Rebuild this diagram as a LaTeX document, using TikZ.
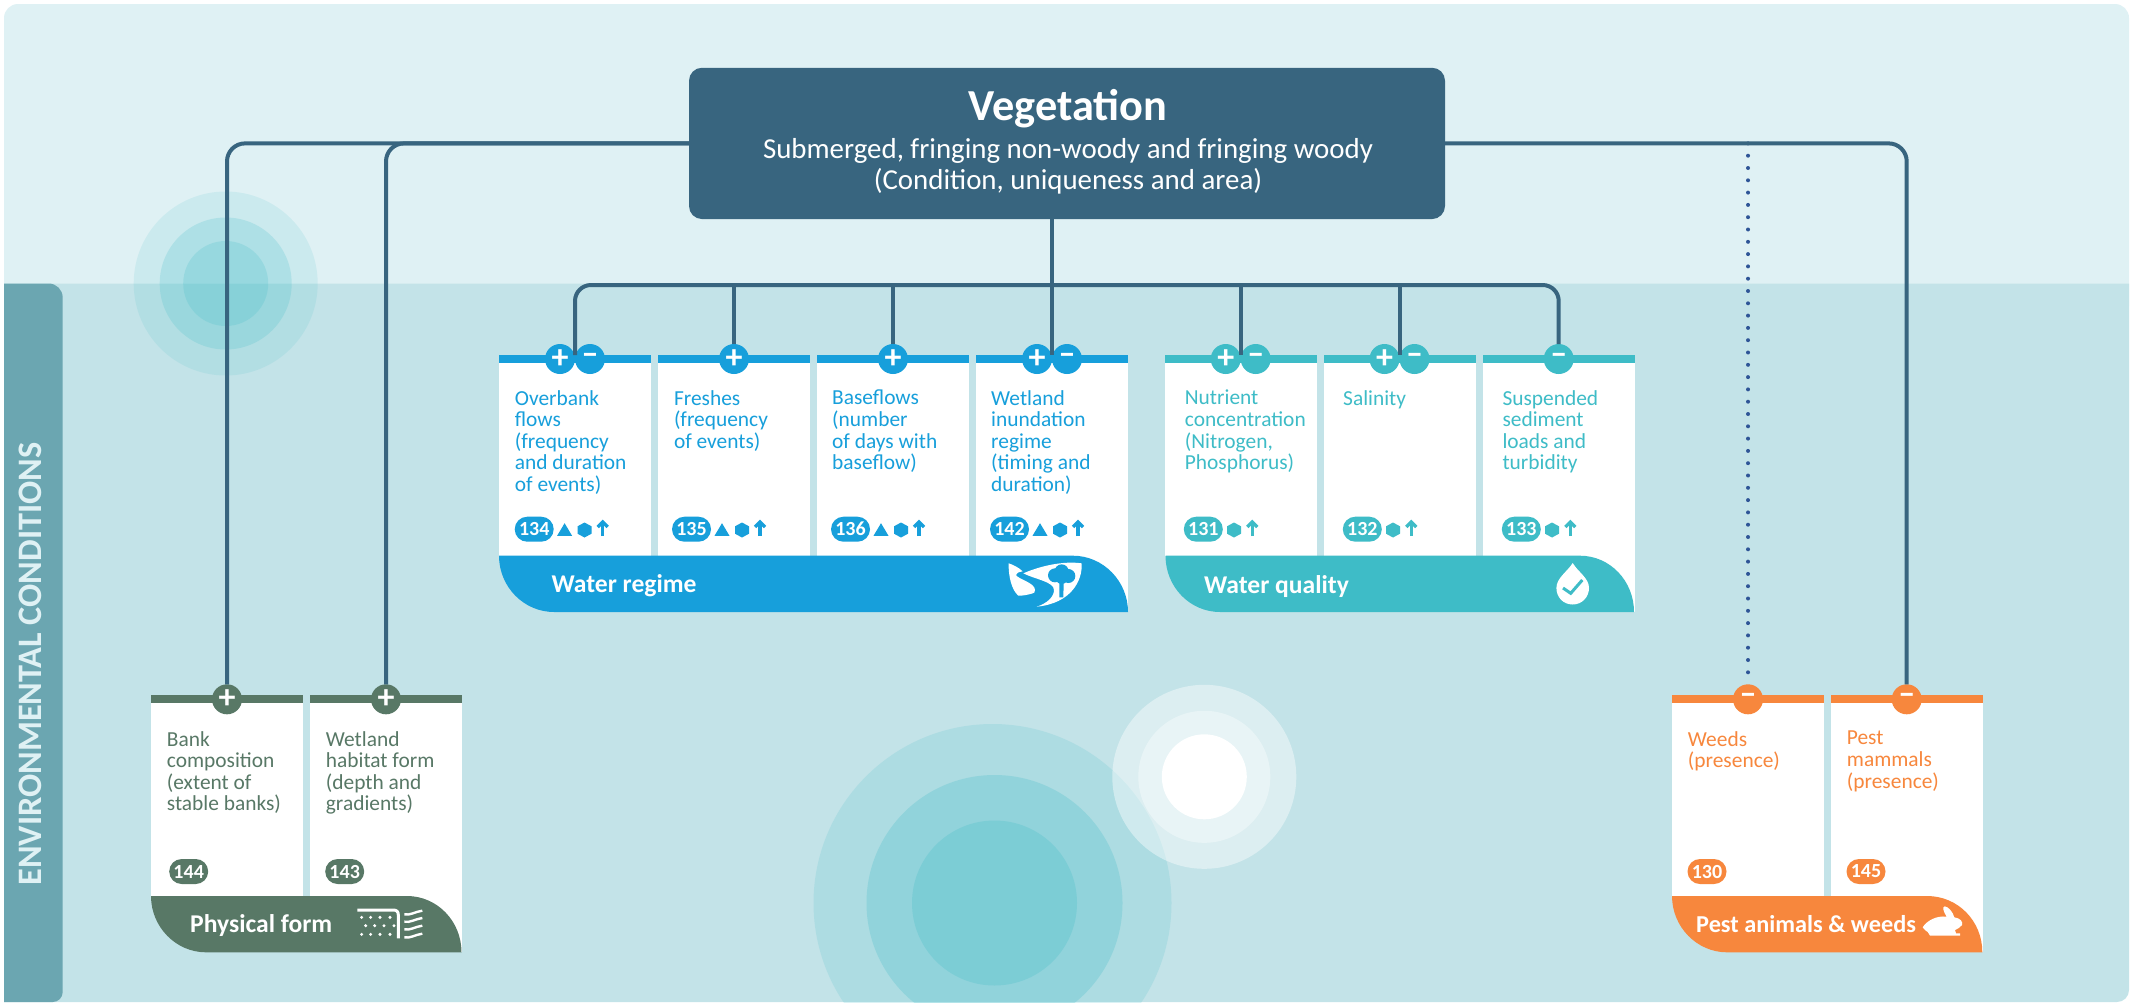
\documentclass[tikz,border=0pt]{standalone}
\usepackage{fontspec}
\setmainfont{Carlito}
\definecolor{toppanel}{HTML}{DFF1F4}
\definecolor{lowpanel}{HTML}{C3E3E8}
\definecolor{strip}{HTML}{6BA6B1}
\definecolor{slate}{HTML}{38657F}
\definecolor{wblue}{HTML}{179FDB}
\definecolor{wteal}{HTML}{3EBCC7}
\definecolor{pgreen}{HTML}{587866}
\definecolor{porange}{HTML}{F7873D}
\definecolor{dots}{HTML}{2E5597}
\tikzset{
  card/.style={fill=white,minimum width=152,inner sep=0,outer sep=0,anchor=north west},
  cardtext/.style={inner sep=0,anchor=north west,align=left,
    font=\fontsize{21.4}{21.6}\selectfont,execute at begin node={\rule{0pt}{15pt}}},
  sign/.style={circle,minimum size=30,inner sep=0,outer sep=0,text=white,
    font=\fontsize{34}{34}\selectfont\bfseries},
  pill/.style={rounded corners=12.5,minimum width=39,minimum height=25,inner sep=0,text=white,
    font=\fontsize{20}{20}\selectfont\bfseries},
  banner/.style={inner sep=0,anchor=base west,text=white,font=\fontsize{25.6}{26}\selectfont\bfseries},
  mainlink/.style={slate,line width=4},
  dotlink/.style={dots,line width=4,line cap=round,dash pattern=on 0pt off 12.3pt},
  pics/evtri/.style={code={\fill (-7.5,6.3) -- (7.5,6.3) -- (0,-6.3) -- cycle;}},
  pics/evhex/.style={code={\fill (0,-7.5) -- (7,-3.7) -- (7,3.7) -- (0,7.5) -- (-7,3.7) -- (-7,-3.7) -- cycle;}},
  pics/evarr/.style={code={\draw[line width=3.3] (0,7.5) -- (0,-6);
    \draw[line width=3.3] (-5,-1.5) -- (0,-6.5) -- (5,-1.5);}}
}
\begin{document}
\begin{tikzpicture}[x=1pt,y=-1pt]
    \useasboundingbox (0,0) rectangle (2140,1002);

    %%%% Panels %%%%%%%%%%%%%%%%%%%%%%%%%%%%%%%%%%%%%%%%%%%%%%%%%%%%%%%%%%
    \fill[toppanel,rounded corners=14] (4,4) rectangle (2129,320);
    \fill[lowpanel] (4,283.5) -- (2129,283.5)
      [rounded corners=12] -- (2129,1002) [sharp corners] -- (4,1002) -- cycle;
    \fill[strip] (4,283.5) [rounded corners=14] -- (62.7,283.5)
      [rounded corners=10] -- (62.7,1002) [sharp corners] -- (4,1002) -- cycle;
    \node[rotate=90,inner sep=0,text=toppanel,font=\fontsize{34.3}{35}\selectfont\bfseries] (envtxt)
      at (30,664) {ENVIRONMENTAL CONDITIONS};

    %%%% Rings %%%%%%%%%%%%%%%%%%%%%%%%%%%%%%%%%%%%%%%%%%%%%%%%%%%%%%%%%%%
    \fill[wteal,opacity=.12] (225.7,283.5) circle (92);
    \fill[wteal,opacity=.2] (225.7,283.5) circle (66);
    \fill[wteal,opacity=.2] (225.7,283.5) circle (42.5);
    \begin{scope}
      \clip (4,283.5) rectangle (2129,1002);
      \fill[wteal,opacity=.16] (992.5,903) circle (179);
      \fill[wteal,opacity=.25] (994.5,903) circle (128);
      \fill[wteal,opacity=.25] (994.5,903) circle (82.5);
    \end{scope}
    \fill[white,opacity=.42] (1204.3,776.8) circle (92);
    \fill[white,opacity=.37] (1204.3,776.8) circle (66);
    \fill[white] (1204.3,776.8) circle (42.5);

    %%%% Vegetation %%%%%%%%%%%%%%%%%%%%%%%%%%%%%%%%%%%%%%%%%%%%%%%%%%%%%%
    \node[fill=slate,rounded corners=13,minimum width=756,minimum height=151.3,inner sep=0,outer sep=0]
      (veg) at (1067,143.4) {};
    \node[inner sep=0,anchor=base,text=white,font=\fontsize{44.3}{45}\selectfont\bfseries] (vegtitle)
      at (1068,120) {Vegetation};
    \node[inner sep=0,anchor=base,text=white,font=\fontsize{28.9}{29}\selectfont] (vegsub)
      at (1068,158) {Submerged, fringing non-woody and fringing woody};
    \node[inner sep=0,anchor=base,text=white,font=\fontsize{28.9}{29}\selectfont] (vegarea)
      at (1068,189) {(Condition, uniqueness and area)};

    %%%% Water regime %%%%%%%%%%%%%%%%%%%%%%%%%%%%%%%%%%%%%%%%%%%%%%%%%%%%
    \node[card,minimum height=201] (ovbcard) at (499,355) {};
    \node[card,minimum height=201] (frecard) at (658,355) {};
    \node[card,minimum height=201] (bascard) at (817,355) {};
    \node[card,minimum height=257] (inucard) at (976,355) {};
    \fill[wblue] (ovbcard.north west) rectangle ++(152,8);
    \fill[wblue] (frecard.north west) rectangle ++(152,8);
    \fill[wblue] (bascard.north west) rectangle ++(152,8);
    \fill[wblue] (inucard.north west) rectangle ++(152,8);
    \fill[wblue]
         (499,555.7)
      -- (1073,555.7)
      .. controls (1103,555.7) and (1128,581) .. (1128,612)
      -- (554,612)
      .. controls (524,612) and (499,587) .. (499,555.7) -- cycle;
    \node[sign,fill=wblue] (ovbp) at (560,359) {+};
    \node[sign,fill=wblue] (ovbm) at (590,359) {–};
    \node[sign,fill=wblue] (frep) at (734,359) {+};
    \node[sign,fill=wblue] (basp) at (893,359) {+};
    \node[sign,fill=wblue] (inup) at (1037,359) {+};
    \node[sign,fill=wblue] (inum) at (1067,359) {–};
    \node[cardtext,text=wblue] (ovbtxt) at (514.7,390) {Overbank\\flows\\(frequency\\and duration\\of events)};
    \node[cardtext,text=wblue] (fretxt) at (673.8,390) {Freshes\\(frequency\\of events)};
    \node[cardtext,text=wblue] (bastxt) at (832,390) {Baseflows\\(number\\of days with\\baseflow)};
    \node[cardtext,text=wblue] (inutxt) at (991,390) {Wetland\\inundation\\regime\\(timing and\\duration)};
    \node[pill,fill=wblue] (ovbnum) at (534.2,529.2) {134};
    \node[pill,fill=wblue] (frenum) at (691.5,529.2) {135};
    \node[pill,fill=wblue] (basnum) at (850.5,529.2) {136};
    \node[pill,fill=wblue] (inunum) at (1009.5,529.2) {142};
    \pic[color=wblue] at (564.6,529.5) {evtri};
    \pic[color=wblue] at (584.5,530) {evhex};
    \pic[color=wblue] at (602.7,528.5) {evarr};
    \pic[color=wblue] at (722,529.5) {evtri};
    \pic[color=wblue] at (742,530) {evhex};
    \pic[color=wblue] at (760,528.5) {evarr};
    \pic[color=wblue] at (881,529.5) {evtri};
    \pic[color=wblue] at (901,530) {evhex};
    \pic[color=wblue] at (919,528.5) {evarr};
    \pic[color=wblue] at (1040,529.5) {evtri};
    \pic[color=wblue] at (1060,530) {evhex};
    \pic[color=wblue] at (1078,528.5) {evarr};
    \node[banner] (wrtxt) at (551.5,592) {Water regime};
    % river and tree
    \begin{scope}[shift={(960,540)},scale=1/3]
      \fill[white] (146,70) .. controls (160,74) and (178,84) .. (188,94)
        .. controls (175,96) and (168,100) .. (168,105)
        .. controls (175,118) and (225,128) .. (225,150)
        .. controls (225,158) and (222,160) .. (215,161)
        .. controls (200,165) and (190,167) .. (175,167)
        .. controls (155,150) and (145,110) .. (146,70) -- cycle;
      \fill[white] (190,100) .. controls (240,78) and (310,62) .. (365,70)
        .. controls (368,120) and (335,190) .. (230,200)
        .. controls (262,190) and (282,170) .. (282,150)
        .. controls (282,125) and (225,118) .. (190,100) -- cycle;
      \fill[wblue] (285,106) circle (21);
      \fill[wblue] (325,108) circle (21);
      \fill[wblue] (305,94) circle (21);
      \fill[wblue] (305,114) circle (18);
      \fill[wblue] (298,128) -- (311,128) -- (310,172) -- (298,172) -- cycle;
    \end{scope}

    %%%% Water quality %%%%%%%%%%%%%%%%%%%%%%%%%%%%%%%%%%%%%%%%%%%%%%%%%%%
    \node[card,minimum height=201] (nutcard) at (1165,355) {};
    \node[card,minimum height=201] (salcard) at (1324,355) {};
    \node[card,minimum height=257] (suscard) at (1483,355) {};
    \fill[wteal] (nutcard.north west) rectangle ++(152,8);
    \fill[wteal] (salcard.north west) rectangle ++(152,8);
    \fill[wteal] (suscard.north west) rectangle ++(152,8);
    \fill[wteal]
         (1165.5,555.7)
      -- (1580,555.7)
      .. controls (1610,555.7) and (1634,581) .. (1634,612)
      -- (1220,612)
      .. controls (1190,612) and (1165.5,587) .. (1165.5,555.7) -- cycle;
    \node[sign,fill=wteal] (nutp) at (1225.7,359) {+};
    \node[sign,fill=wteal] (nutm) at (1255.7,359) {–};
    \node[sign,fill=wteal] (salp) at (1384.5,359) {+};
    \node[sign,fill=wteal] (salm) at (1414.5,359) {–};
    \node[sign,fill=wteal] (susm) at (1558.7,359) {–};
    \node[cardtext,text=wteal] (nuttxt) at (1184.7,390) {Nutrient\\concentration\\(Nitrogen,\\Phosphorus)};
    \node[cardtext,text=wteal] (saltxt) at (1343,390) {Salinity};
    \node[cardtext,text=wteal] (sustxt) at (1502.3,390) {Suspended\\sediment\\loads and\\turbidity};
    \node[pill,fill=wteal] (nutnum) at (1203.3,529.2) {131};
    \node[pill,fill=wteal] (salnum) at (1362.3,529.2) {132};
    \node[pill,fill=wteal] (susnum) at (1521.3,529.2) {133};
    \pic[color=wteal] at (1234,530) {evhex};
    \pic[color=wteal] at (1252.3,528.5) {evarr};
    \pic[color=wteal] at (1393,530) {evhex};
    \pic[color=wteal] at (1411.3,528.5) {evarr};
    \pic[color=wteal] at (1552,530) {evhex};
    \pic[color=wteal] at (1570.3,528.5) {evarr};
    \node[banner] (wqtxt) at (1204,593) {Water quality};
    % drop
    \fill[white] (1572.7,563) .. controls (1578,572) and (1589,578) .. (1589,588)
      .. controls (1589,597) and (1582,604.5) .. (1572.7,604.5)
      .. controls (1563,604.5) and (1556.4,597) .. (1556.4,588)
      .. controls (1556.4,578) and (1567,572) .. (1572.7,563) -- cycle;
    \draw[wteal,line width=3] (1563,588) -- (1570.7,593.3) -- (1582.3,580);

    %%%% Physical form %%%%%%%%%%%%%%%%%%%%%%%%%%%%%%%%%%%%%%%%%%%%%%%%%%%
    \node[card,minimum height=201] (bancard) at (151,695) {};
    \node[card,minimum height=257] (habcard) at (310,695) {};
    \fill[pgreen] (bancard.north west) rectangle ++(152,8);
    \fill[pgreen] (habcard.north west) rectangle ++(152,8);
    \fill[pgreen]
         (151,896)
      -- (407,896)
      .. controls (437,896) and (461.5,921) .. (461.5,952.3)
      -- (206,952.3)
      .. controls (176,952.3) and (151,927) .. (151,896) -- cycle;
    \node[sign,fill=pgreen] (banp) at (227,699.3) {+};
    \node[sign,fill=pgreen] (habp) at (386,699.3) {+};
    \node[cardtext,text=pgreen] (bantxt) at (166.7,731) {Bank\\composition\\(extent of\\stable banks)};
    \node[cardtext,text=pgreen] (habtxt) at (325.7,731) {Wetland\\habitat form\\(depth and\\gradients)};
    \node[pill,fill=pgreen] (bannum) at (188.7,871.5) {144};
    \node[pill,fill=pgreen] (habnum) at (344.7,871.5) {143};
    \node[banner] (pftxt) at (190,932.7) {Physical form};
    % bed and bank
    \begin{scope}[shift={(345,895)},scale=1/3]
      \draw[white,line width=3] (37,45) -- (145,45) .. controls (155,45) and (160,50) .. (160,60) -- (160,130);
      \foreach \dotx in {50,77,105,135} {
        \fill[white] (\dotx,67) circle (5);
        \fill[white] (\dotx+12,92) circle (5);
        \fill[white] (\dotx,118) circle (5);
      }
      \draw[white,line width=2.4] (178,58) .. controls (195,62) and (210,50) .. (232,47);
      \draw[white,line width=2.4] (178,80) .. controls (195,84) and (210,72) .. (232,69);
      \draw[white,line width=2.4] (178,103) .. controls (195,107) and (210,95) .. (232,92);
      \draw[white,line width=2.4] (178,127) .. controls (195,131) and (210,119) .. (232,116);
    \end{scope}

    %%%% Pest animals and weeds %%%%%%%%%%%%%%%%%%%%%%%%%%%%%%%%%%%%%%%%%%
    \node[card,minimum height=201] (weecard) at (1672,695) {};
    \node[card,minimum height=257] (mamcard) at (1831,695) {};
    \fill[porange] (weecard.north west) rectangle ++(152,8);
    \fill[porange] (mamcard.north west) rectangle ++(152,8);
    \fill[porange]
         (1672,896)
      -- (1927,896)
      .. controls (1958,896) and (1982.3,921) .. (1982.3,952.3)
      -- (1727,952.3)
      .. controls (1697,952.3) and (1672,927) .. (1672,896) -- cycle;
    \node[sign,fill=porange] (weem) at (1748,699.3) {–};
    \node[sign,fill=porange] (mamm) at (1906.7,699.3) {–};
    \node[cardtext,text=porange] (weetxt) at (1687.7,731) {Weeds\\(presence)};
    \node[cardtext,text=porange] (mamtxt) at (1846.7,731) {Pest\\mammals\\(presence)};
    \node[pill,fill=porange] (weenum) at (1707,871.5) {130};
    \node[pill,fill=porange] (mamnum) at (1866,871.5) {145};
    \node[banner,font=\fontsize{24.3}{26}\selectfont\bfseries] (patxt) at (1696,932.7) {Pest animals \& weeds};
    % rabbit
    \begin{scope}[shift={(1900,890)},scale=1/3]
      \fill[white] (68,112) .. controls (80,92) and (110,76) .. (140,80)
        .. controls (130,65) and (126,50) .. (134,49)
        .. controls (145,50) and (158,65) .. (163,82)
        .. controls (180,84) and (190,95) .. (186,105)
        .. controls (182,113) and (172,116) .. (165,120)
        -- (168,130) -- (180,130) -- (180,137) -- (90,137)
        .. controls (86,130) and (82,122) .. (75,120) -- cycle;
    \end{scope}

    %%%% Connectors %%%%%%%%%%%%%%%%%%%%%%%%%%%%%%%%%%%%%%%%%%%%%%%%%%%%%%
    \coordinate (bus) at (1052,285);
    \coordinate (ovbj) at (575,355);
    \coordinate (inuj) at (1052,355);
    \coordinate (nutj) at (1240.7,355);
    \coordinate (salj) at (1399.5,355);
    \coordinate (dotj) at (veg.east -| weem);
    \draw[dotlink] (dotj) -- (weem.north);
    \draw[mainlink,rounded corners=18] (veg.west) -| (banp.north);
    \draw[mainlink,rounded corners=18] (veg.west) -| (habp.north);
    \draw[mainlink,rounded corners=18] (veg.east) -| (mamm.north);
    \draw[mainlink] (veg.south -| bus) -- (inuj);
    \draw[mainlink,rounded corners=16] (ovbj) |- (bus) -| (susm.north);
    \draw[mainlink] (frep.north |- bus) -- (frep.north);
    \draw[mainlink] (basp.north |- bus) -- (basp.north);
    \draw[mainlink] (nutj |- bus) -- (nutj);
    \draw[mainlink] (salj |- bus) -- (salj);
\end{tikzpicture}
\end{document}
